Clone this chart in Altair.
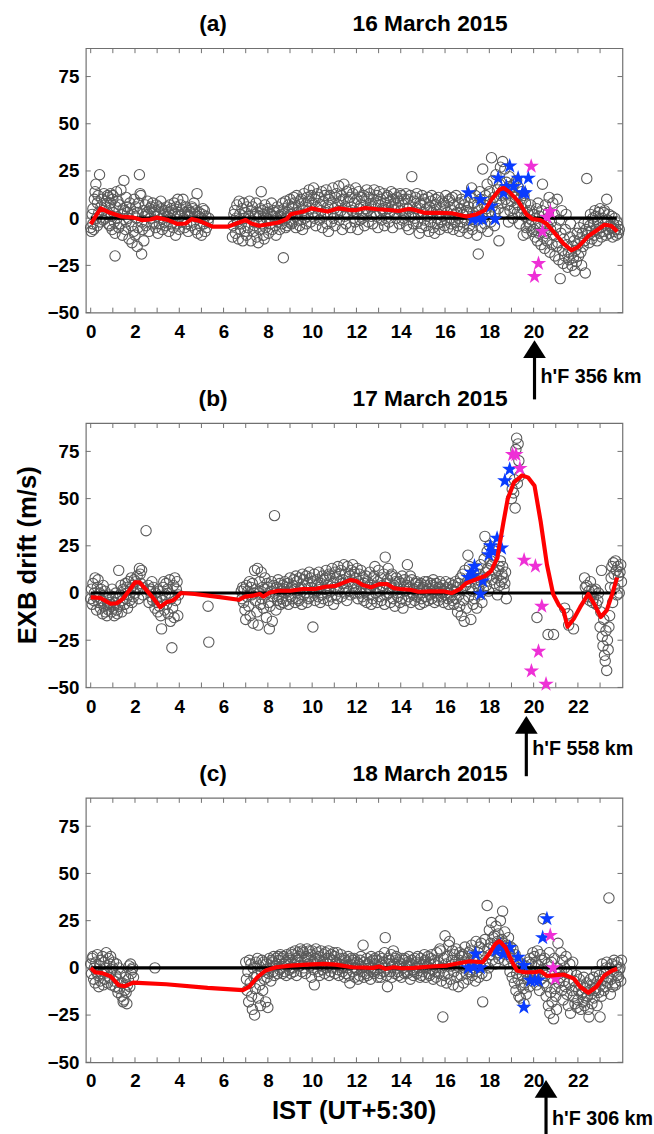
import altair as alt
import pandas as pd

FONT = "Liberation Sans"
W, H = 544, 268
X_DOMAIN = [-0.22, 24.01]
Y_DOMAIN = [-50, 90]
CIRCLE = "#5a5a5a"
FRAME = "#707070"
BLUE = "#0a3cff"
MAGENTA = "#ee30d6"
STAR = "M0,-1L0.225,-0.309L0.951,-0.309L0.363,0.118L0.588,0.809L0,0.382L-0.588,0.809L-0.363,0.118L-0.951,-0.309L-0.225,-0.309Z"
HEAD = "M0,-0.78L1,0.78L-1,0.78Z"
SAMPLE_STEP = 0.033  # sampling cadence (h) of the successive values listed in one 0.1 h bin

x_label_values = [0, 2, 4, 6, 8, 10, 12, 14, 16, 18, 20, 22]
x_tick_values = [0, 1, 2, 3, 4, 5, 6, 7, 8, 9, 10, 11, 12, 13, 14, 15, 16, 17, 18, 19, 20, 21, 22, 23]
y_tick_values = [-50, -25, 0, 25, 50, 75]
zero_span = [0.0, 23.75]

panel_tags = ["(a)", "(b)", "(c)"]
panel_dates = ["16 March 2015", "17 March 2015", "18 March 2015"]
hf_times = [20.04, 19.67, 20.56]
hf_labels = ["h'F 356 km", "h'F 558 km", "h'F 306 km"]

# ---------------- panel (a) 16 March 2015 ----------------
a_obs = [
    (0.0, [-5, -7, 2, -3]), (0.1, [5, -6, 10]), (0.2, [14, 18, 0, -4]), (0.3, [8, 12, 3]), (0.4, [23, -2, 6]),
    (0.5, [10, 4, -1]), (0.6, [13, 7, 0]), (0.7, [9, 2, 12, -3]), (0.8, [11, 5, -4, 13]), (0.9, [8, 1, -6, 12]),
    (1.0, [10, 3, -2, -8]), (1.1, [-20, 6, 14]), (1.2, [0, 9, -5]), (1.3, [7, -3, 15]), (1.4, [2, -9, 5]),
    (1.5, [20, 4, -6, 11]), (1.6, [-2, 6, 3]), (1.7, [0, -11, 8]), (1.8, [5, -4, -13]), (1.9, [2, -7, 10]),
    (2.0, [-9, 6, 0, -15]), (2.1, [3, -5, 8]), (2.2, [23, 13, 12, -2]), (2.3, [-19, -6, 4]), (2.4, [-12, 1, 7]),
    (2.5, [-4, 3, 9]), (2.6, [2, -7, 5]), (2.7, [0, 6, -3]), (2.8, [8, -2, 3]), (2.9, [4, -5, 7]),
    (3.0, [1, -8, 6]), (3.1, [-3, 3, 9]), (3.2, [5, -6, 0]), (3.3, [2, -2, 4]), (3.4, [-4, 6, 1]),
    (3.5, [3, -7, 7]), (3.6, [0, 5, -3]), (3.7, [4, -5, 8]), (3.8, [2, -9, 6]), (3.9, [-3, 10, 3]),
    (4.0, [-6, 1, 7]), (4.1, [4, -2, 10]), (4.2, [0, -5, 3]), (4.3, [6, -3, 2]), (4.4, [-7, 4, 1]),
    (4.5, [3, -4, 6]), (4.6, [5, -2, 8]), (4.7, [2, -6, 4]), (4.8, [13, -8, 1]), (4.9, [3, -4, 0]),
    (5.0, [-9, 2, 5]), (5.1, [-3, 4, -7]), (5.2, [1, -5]), (5.3, [-2, 0]),
    (6.4, [-10, -4, 2]), (6.5, [4, -8, 0]), (6.6, [7, -2, -11]), (6.7, [9, 2, -6]), (6.8, [-3, 5, -12]),
    (6.9, [8, 0, -7]), (7.0, [3, -9, 6]), (7.1, [-5, 1, 9]), (7.2, [0, -12, 4]), (7.3, [6, -7, -2]),
    (7.4, [-4, 2, 8]), (7.5, [-10, 3, -13]), (7.6, [1, -6, 5]), (7.7, [14, -3, 4, -9]), (7.8, [2, -11, 7]),
    (7.9, [-5, 0, 3]), (8.0, [5, -8, -1]), (8.1, [-3, 2, 8]), (8.2, [-6, 1, 4]), (8.3, [3, -4, -9]),
    (8.4, [0, 6, -2]), (8.5, [4, -6, 1]), (8.6, [2, -3, 8]), (8.7, [-21, 5, -1, -5]), (8.8, [9, 0, -4]),
    (8.9, [3, 7, -2]), (9.0, [10, 2, -3, 6]), (9.1, [5, -2, 11]), (9.2, [8, 1, -5]), (9.3, [12, 3, -1]),
    (9.4, [6, -4, 9]), (9.5, [10, 2, -6]), (9.6, [4, 13, 0]), (9.7, [7, -3, 11]), (9.8, [1, 9, 15]),
    (9.9, [5, -2, 12]), (10.0, [8, 3, 16]), (10.1, [0, 10, -4]), (10.2, [6, 13, 2]), (10.3, [11, -1, 7]),
    (10.4, [4, 14, -5]), (10.5, [9, 1, 12]), (10.6, [3, 15, -3]), (10.7, [6, -7, 10]), (10.8, [12, 2, -2]),
    (10.9, [8, 16, 0]), (11.0, [5, -4, 11]), (11.1, [13, 2, 7]), (11.2, [17, -1, 9]), (11.3, [4, 12, -6]),
    (11.4, [10, 18, 1]), (11.5, [6, -3, 14]), (11.6, [2, 9, 15]), (11.7, [11, -5, 6]), (11.8, [4, 13, 0]),
    (11.9, [8, -2, 16]), (12.0, [3, 10, -6]), (12.1, [14, 5, -1]), (12.2, [7, 11, 0]), (12.3, [2, 12, -4]),
    (12.4, [9, 5, 15]), (12.5, [4, -2, 11]), (12.6, [13, 7, 1]), (12.7, [6, -3, 10]), (12.8, [15, 3, 8]),
    (12.9, [1, 12, -5]), (13.0, [7, 14, 3]), (13.1, [10, -1, 5]), (13.2, [4, 13, -4]), (13.3, [8, 0, 11]),
    (13.4, [12, 5, -2]), (13.5, [3, 9, 14]), (13.6, [6, -5, 10]), (13.7, [13, 2, 7]), (13.8, [0, 11, 5]),
    (13.9, [9, -3, 13]), (14.0, [4, 12, -1]), (14.1, [7, 0, 10]), (14.2, [2, 13, -4]), (14.3, [10, 5, -6]),
    (14.4, [6, 12, 1]), (14.5, [22, 3, -3]), (14.6, [9, 0, 11]), (14.7, [5, 13, -2]), (14.8, [2, -8, 8]),
    (14.9, [7, -5, 12]), (15.0, [3, 10, -1]), (15.1, [8, -4, 5]), (15.2, [1, 11, -7]), (15.3, [6, -2, 9]),
    (15.4, [12, 3, -5]), (15.5, [4, -8, 10]), (15.6, [7, 0, -3]), (15.7, [11, 2, -6]), (15.8, [5, -2, 9]),
    (15.9, [1, 8, -4]), (16.0, [6, 12, -1]), (16.1, [3, -5, 9]), (16.2, [10, 0, -3]), (16.3, [4, 11, -6]),
    (16.4, [7, -2, 2]), (16.5, [12, 3, -4]), (16.6, [0, 8, -7]), (16.7, [5, 10, -2]), (16.8, [2, -5, 7]),
    (16.9, [9, -1, 4]), (17.0, [3, -8, 6]), (17.1, [-4, 11, 0]), (17.2, [16, -6, 3]), (17.3, [8, -2, 12]),
    (17.4, [1, -9, 6]), (17.5, [-19, 4, 14]), (17.6, [10, -5, 2]), (17.7, [26, 0, 7]), (17.8, [-3, 12, 5]),
    (17.9, [18, -7, 3]), (18.0, [14, 9, -2]), (18.1, [32, 6, 20]), (18.2, [11, -4, 3]), (18.3, [23, 9, 15]),
    (18.4, [5, -12, 18]), (18.5, [27, 12, 8]), (18.6, [30, 15, 3]), (18.7, [26, 10, 19]), (18.8, [13, 7, -2]),
    (18.9, [22, 4, 16]), (19.0, [9, 14, 0]), (19.1, [18, 5, 11]), (19.2, [12, 20, 3]), (19.3, [7, 16, -3]),
    (19.4, [10, 2, 14]), (19.5, [5, -9, 12]), (19.6, [1, 8, -5]), (19.7, [-8, 3, -2]), (19.8, [4, -4, 7]),
    (19.9, [-1, -7, 2]), (20.0, [-6, 2, -10]), (20.1, [-3, 5, -12]), (20.2, [8, -8, 1]), (20.3, [-5, -14, 4]),
    (20.4, [18, -10, -2]), (20.5, [-16, 7, -8]), (20.6, [-12, -4, 3]), (20.7, [11, -18, -6]), (20.8, [-2, -14, 8]),
    (20.9, [-9, 2, -20]), (21.0, [-5, -15, 10]), (21.1, [-13, -22, -1]), (21.2, [-32, -8, 4]), (21.3, [-17, -24, -11]),
    (21.4, [-20, -6, 2]), (21.5, [-14, -26, -18]), (21.6, [-22, -10, -3]), (21.7, [-19, -25, -15]), (21.8, [-21, -12, -28]),
    (21.9, [-17, -23, -8]), (22.0, [-14, -20, -5]), (22.1, [-11, -18, -25]), (22.2, [-8, -15, -3]), (22.3, [-12, -29, -6]),
    (22.4, [21, -9, -2]), (22.5, [-13, -4, 2]), (22.6, [-7, -11, 0]), (22.7, [-3, -9, 4]), (22.8, [1, -6, -12]),
    (22.9, [-2, 3, -8]), (23.0, [5, -5, -10]), (23.1, [0, -7, 3]), (23.2, [4, -3, -9]), (23.3, [10, -1, -6]),
    (23.4, [2, -8, -4]), (23.5, [-5, 1, -10]), (23.6, [-3, -7, 0]), (23.7, [-6, -9, -2]), (23.8, [-4, -8, -6]),
]
a_red_t = [0.0, 0.45, 0.85, 1.38, 1.94, 2.3, 2.7, 3.0, 3.5, 3.9, 4.3, 4.55, 4.9, 5.5, 6.2, 6.7, 7.0, 7.25,
           7.6, 8.1, 8.47, 8.85, 9.03, 9.6, 9.97, 10.34, 10.7, 11.2, 11.73, 12.0, 12.4, 12.95, 13.5, 13.9,
           14.35, 14.6, 15.1, 15.75, 16.31, 16.7, 16.97, 17.43, 17.8, 18.1, 18.46, 18.65, 18.9, 19.3, 19.67,
           19.95, 20.3, 20.6, 20.98, 21.35, 21.7, 22.0, 22.47, 22.94, 23.2, 23.5, 23.78]
a_red_v = [-3.1, 5.2, 3.0, 0.9, 0.3, -1.0, -0.7, 0.3, -1.0, -3.0, -2.8, -0.5, -1.4, -4.5, -4.5, -2.3, -1.0, -2.8,
           -4.0, -3.1, -2.3, -0.5, 2.1, 3.5, 5.2, 4.3, 3.5, 5.2, 4.3, 4.3, 5.4, 4.7, 4.3, 3.8,
           4.9, 4.5, 2.8, 2.8, 2.6, 1.6, 0.9, 2.1, 4.2, 9.9, 15.1, 16.0, 13.9, 9.0, 2.1,
           -0.5, -1.0, -3.1, -8.3, -13.5, -17.0, -15.3, -9.5, -5.7, -3.5, -4.0, -7.1]
a_blue = [(17.05, 13.4), (17.6, 9.9), (17.24, -0.5), (17.5, -0.5), (17.7, -0.5), (18.08, 6.4), (18.26, -0.5),
          (18.4, 21.2), (18.64, 13.4), (18.77, 16.8), (18.92, 27.6), (19.1, 16.8), (19.3, 21.2), (19.5, 13.4),
          (19.62, 13.4), (19.76, 21.2)]
a_mag = [(19.89, 27.5), (20.04, -30.9), (20.22, -24.0), (20.4, -7.0), (20.6, 0.5), (20.75, 3.5)]

# ---------------- panel (b) 17 March 2015 ----------------
b_obs = [
    (0.0, [-3, 2, -6]), (0.1, [5, -4, 0]), (0.2, [8, -2, -9]), (0.3, [3, 7, -5]), (0.4, [0, -8, 2]),
    (0.5, [-4, -11, 4]), (0.6, [-7, 1, -10]), (0.7, [-3, -12, -6]), (0.8, [-9, -1, -5]), (0.9, [-6, -10, 2]),
    (1.0, [-2, -8, -12]), (1.1, [-5, 0, -9]), (1.2, [-11, -3, 12]), (1.3, [-7, -1, 4]), (1.4, [-10, -4, 2]),
    (1.5, [1, -6, 5]), (1.6, [-3, 3, -8]), (1.7, [6, -1, -4]), (1.8, [2, 8, -5]), (1.9, [4, -2, 7]),
    (2.0, [0, 6, 3]), (2.1, [9, 2, -3]), (2.2, [13, 10, 5]), (2.3, [12, 3, -1]), (2.5, [33]),
    (2.6, [4, -5, 1]), (2.7, [2, -2, 6]), (2.8, [-4, 3]), (2.9, [-8, 0, -3]), (3.0, [-5, -10, 1]),
    (3.1, [-7, -2, -12]), (3.2, [-19, -4, 3]), (3.3, [6, -9, -1]), (3.4, [5, -6, 2]), (3.5, [-11, 0, 7]),
    (3.6, [-15, -3, -29]), (3.7, [-8, 4, -13]), (3.8, [8, -4, 2]), (3.9, [6, -12, -1]),
    (5.3, [-7, -26]),
    (6.8, [1, -3, 3]), (6.9, [-5, 2, -9]), (7.0, [-14, 4, -2]), (7.1, [1, -7, 6]), (7.2, [-12, 3, -1]),
    (7.3, [5, -16, 0]), (7.4, [12, -4, 2]), (7.5, [-10, 13, -17]), (7.6, [0, 6, -6]), (7.7, [11, -3, 3]),
    (7.8, [-8, 2, 8]), (7.9, [-1, -13, 5]), (8.0, [3, -5, -19]), (8.1, [-7, 1, 6]), (8.2, [-15, -2, 4]),
    (8.3, [41, 0, -9]), (8.4, [3, -4, 7]), (8.5, [-2, 5, -6]), (8.6, [1, -3, 4]), (8.7, [-5, 2, 6]),
    (8.8, [0, -4, 3]), (8.9, [5, -6, 1]), (9.0, [8, -2, 3]), (9.1, [-3, 4, 7]), (9.2, [2, -5, 9]),
    (9.3, [6, 0, -3]), (9.4, [-4, 8, 2]), (9.5, [3, -6, 10]), (9.6, [7, -1, 4]), (9.7, [0, 9, -5]),
    (9.8, [5, -3, 11]), (9.9, [-2, 8, 3]), (10.0, [6, -18, 0]), (10.1, [10, -4, 4]), (10.2, [1, 7, -2]),
    (10.3, [11, 3, -5]), (10.4, [5, -1, 9]), (10.5, [-3, 7, 2]), (10.6, [8, 12, 0]), (10.7, [4, -4, 10]),
    (10.8, [9, 1, -2]), (10.9, [13, 5, -6]), (11.0, [3, 11, -1]), (11.1, [8, -3, 14]), (11.2, [1, 10, 6]),
    (11.3, [12, -2, 5]), (11.4, [7, 15, 0]), (11.5, [10, 3, -4]), (11.6, [14, 6, 1]), (11.7, [9, -1, 12]),
    (11.8, [5, 15, 3]), (11.9, [11, 0, 8]), (12.0, [2, 13, -3]), (12.1, [6, 10, 0]), (12.2, [12, 3, -2]),
    (12.3, [8, -4, 5]), (12.4, [1, 9, -5]), (12.5, [6, -1, 3]), (12.6, [11, 2, -6]), (12.7, [4, -3, 8]),
    (12.8, [9, 14, 0]), (12.9, [3, -5, 6]), (13.0, [12, 1, -2]), (13.1, [8, -4, 4]), (13.2, [2, 10, -6]),
    (13.3, [19, 5, -1]), (13.4, [7, 13, 0]), (13.5, [3, -5, 9]), (13.6, [10, 1, -3]), (13.7, [4, -7, 6]),
    (13.8, [8, 0, -2]), (13.9, [2, 6, -5]), (14.0, [5, -3, 9]), (14.1, [-8, 3, 7]), (14.2, [1, -4, 4]),
    (14.3, [15, 6, -2]), (14.4, [3, 9, -5]), (14.5, [7, 0, -1]), (14.6, [2, -4, 5]), (14.7, [6, -2, 3]),
    (14.8, [0, 4, -6]), (14.9, [5, -3, 2]), (15.0, [3, -5, 6]), (15.1, [-2, 4, 1]), (15.2, [6, -4, 0]),
    (15.3, [2, -1, 5]), (15.4, [-3, 4, 7]), (15.5, [1, -5, 3]), (15.6, [5, 0, -2]), (15.7, [-4, 3, 6]),
    (15.8, [2, -2, 0]), (15.9, [4, -5, 1]), (16.0, [-1, 6, 2]), (16.1, [3, -3, -6]), (16.2, [0, 5, -2]),
    (16.3, [2, -4, 4]), (16.4, [-6, 1, 6]), (16.5, [-3, 3, -10]), (16.6, [5, -1, -7]), (16.7, [8, -12, 2]),
    (16.8, [10, -4, -15]), (16.9, [12, 4, -8]), (17.0, [6, 20, -2]), (17.1, [14, 3, -14]), (17.2, [9, 1, -6]),
    (17.3, [11, -3, 5]), (17.4, [7, -8, 13]), (17.5, [3, 10, -1]), (17.6, [15, 6, -5]), (17.7, [8, 2, 18]),
    (17.8, [30, 11, 4]), (17.9, [22, 13, 1]), (18.0, [25, 9, 17]), (18.1, [15, 7, 20]), (18.2, [19, 5, 11]),
    (18.3, [23, 8, -1]), (18.4, [12, 14, 4]), (18.5, [17, 6, 10]), (18.6, [14, 8, 2]), (18.7, [5, 11, -3]),
    (19.0, [50, 55]), (19.1, [53, 60, 45]), (19.2, [76, 82, 58]), (19.3, [79, 70, 62]),
    (20.15, [-13]), (20.65, [-22]), (20.9, [-22]), (21.4, [-8]), (21.55, [-11, -17]), (21.8, [-19]),
    (22.3, [8, 3]), (22.4, [4, -2]), (22.5, [1, -4, 6]), (22.6, [-1, 2, -5]), (22.7, [-3, 1]),
    (22.8, [2, -6]), (22.9, [-4, 0]), (23.0, [-18, -10, 12]), (23.1, [-23, -28, -14]), (23.2, [-33, -36, -20]),
    (23.3, [-41, -25, -30]), (23.4, [-18, -12, 3]), (23.5, [8, 14, -5]), (23.6, [16, 10, 3]), (23.7, [17, 12, -1]),
    (23.8, [14, 9, 0]), (23.9, [11, 15, 6]),
]
b_red_t = [0.0, 0.43, 0.9, 1.18, 1.45, 1.73, 2.0, 2.2, 2.48, 2.85, 3.14, 3.42, 3.7, 3.88, 4.07, 4.7, 5.66,
           6.69, 6.97, 7.34, 7.63, 7.8, 8.09, 8.46, 9.02, 9.58, 10.14, 10.6, 11.07, 11.45, 11.73, 12.0,
           12.28, 12.66, 13.03, 13.4, 13.68, 13.96, 14.43, 14.8, 15.36, 15.92, 16.3, 16.67, 16.95, 17.42,
           17.8, 18.08, 18.36, 18.64, 18.83, 19.11, 19.48, 19.76, 20.04, 20.32, 20.6, 20.88, 21.15, 21.35,
           21.53, 21.82, 22.1, 22.47, 22.75, 23.03, 23.3, 23.55, 23.77]
b_red_v = [-2.3, -2.6, -5.7, -5.4, -3.1, 1.2, 5.6, 5.7, 2.1, -3.1, -7.5, -4.9, -4.0, -2.3, 0.0, -0.5, -1.9,
           -3.6, -1.9, -1.4, -0.5, -1.9, 0.3, 1.2, 1.2, 2.1, 2.1, 3.3, 3.8, 5.6, 6.9, 6.4,
           4.3, 3.0, 4.7, 4.7, 2.6, 2.1, 1.7, 0.7, 0.9, 0.9, 0.0, 2.1, 5.2, 7.3,
           9.0, 11.6, 18.6, 37.7, 49.8, 58.5, 62.3, 61.1, 56.8, 37.7, 15.1, -0.5, -6.6, -9.2,
           -17.9, -13.5, -7.5, -0.5, -6.1, -12.7, -9.2, -0.5, 8.2]
b_blue = [(17.05, 8.2), (17.2, 11.0), (17.33, 14.2), (17.25, 9.0), (17.6, -0.5), (17.7, 6.4), (17.98, 20.3),
          (18.05, 25.0), (18.15, 22.0), (18.35, 29.0), (18.55, 23.8), (18.7, 59.4), (18.92, 65.5)]
b_mag = [(19.05, 73.3), (19.2, 73.3), (19.38, 66.0), (19.57, 17.4), (20.08, 14.2), (20.37, -7.0),
         (20.22, -30.9), (19.9, -41.3), (20.56, -48.3)]

# ---------------- panel (c) 18 March 2015 ----------------
c_obs = [
    (0.0, [2, -3, 5]), (0.1, [6, -6, 0]), (0.2, [-8, 3, -2]), (0.3, [7, -4, -10]), (0.4, [1, -7, 4]),
    (0.5, [-3, 6, -9]), (0.6, [3, -6, 0]), (0.7, [8, -2, -8]), (0.8, [5, -5, 2]), (0.9, [6, -9, -1]),
    (1.0, [0, 3, -7]), (1.1, [-10, -4, 2]), (1.2, [-6, -13, 0]), (1.3, [-11, -3, -8]), (1.4, [-15, -8, -18]),
    (1.5, [-17, -12, -5]), (1.6, [-13, -19, -9]), (1.7, [-6, 1, -10]), (1.8, [2, -3, -1]), (1.9, [0, -5]),
    (2.9, [0]),
    (7.0, [3, -6, -12]), (7.1, [-2, -18, 4]), (7.2, [-8, 2, -15]), (7.3, [-22, 0, -5]), (7.4, [-25, -11, 3]),
    (7.5, [-4, 5, -16]), (7.6, [1, -9, -20]), (7.7, [-2, 4, -12]), (7.8, [3, -6, -1]), (7.9, [-18, 2, -5]),
    (8.0, [-21, -3, 5]), (8.1, [0, -7, 4]), (8.2, [3, -2, 6]), (8.3, [-4, 1, 5]), (8.4, [2, -3, 6]),
    (8.5, [4, -1, 7]), (8.6, [0, 5, -3]), (8.7, [6, 2, -2]), (8.8, [3, -4, 7]), (8.9, [1, 5, -1]),
    (9.0, [4, -3, 8]), (9.1, [7, 0, -2]), (9.2, [2, 9, 5]), (9.3, [-4, 4, 8]), (9.4, [6, 1, 10]),
    (9.5, [3, -2, 9]), (9.6, [8, 0, 4]), (9.7, [-3, 6, 10]), (9.8, [5, 2, 9]), (9.9, [1, 7, -5]),
    (10.0, [9, 3, -1]), (10.1, [-9, 5, 10]), (10.2, [2, 8, -2]), (10.3, [6, -4, 4]), (10.4, [9, 1, -1]),
    (10.5, [3, 7, -3]), (10.6, [8, 0, 5]), (10.7, [2, 9, -4]), (10.8, [5, -2, 7]), (10.9, [0, 4, 8]),
    (11.0, [6, -3, 2]), (11.1, [3, 8, -1]), (11.2, [-4, 2, 5]), (11.3, [7, 0, -2]), (11.4, [1, 5, -5]),
    (11.5, [4, -3, 3]), (11.6, [0, 6, -4]), (11.7, [-8, 2, 5]), (11.8, [3, -2, 4]), (11.9, [5, -5, 0]),
    (12.0, [-1, 3, -6]), (12.1, [2, -4, 4]), (12.2, [6, -2, 0]), (12.3, [12, -5, 3]), (12.4, [1, -3, 5]),
    (12.5, [-4, 2, 0]), (12.6, [3, -6, 6]), (12.7, [0, 4, -2]), (12.8, [-3, 5, 2]), (12.9, [4, -1, -5]),
    (13.0, [1, 6, -3]), (13.1, [-5, 2, 5]), (13.2, [3, -2, 8]), (13.3, [16, 0, -4]), (13.4, [-10, 5, 2]),
    (13.5, [4, -2, 7]), (13.6, [-5, 1, 9]), (13.7, [2, -3, 5]), (13.8, [6, 0, -2]), (13.9, [-4, 3, 1]),
    (14.0, [2, -5, 5]), (14.1, [0, 4, -3]), (14.2, [5, -2, 1]), (14.3, [-3, 3, 6]), (14.4, [1, -6, 2]),
    (14.5, [4, -1, -4]), (14.6, [-2, 5, 0]), (14.7, [3, -3, 6]), (14.8, [0, 2, -5]), (14.9, [5, -4, 1]),
    (15.0, [-2, 3, 7]), (15.1, [4, -5, 0]), (15.2, [1, 6, -3]), (15.3, [-4, 2, 5]), (15.4, [7, -1, -6]),
    (15.5, [2, 4, -2]), (15.6, [-5, 8, 1]), (15.7, [3, -3, 10]), (15.8, [9, -7, 0]), (15.9, [-26, 5, -4]),
    (16.0, [17, 2, -8]), (16.1, [6, -3, 12]), (16.2, [14, -6, 1]), (16.3, [4, 9, -9]), (16.4, [-2, 7, 3]),
    (16.5, [10, -5, 1]), (16.6, [-10, 4, 8]), (16.7, [2, -4, 6]), (16.8, [7, -8, 0]), (16.9, [11, 3, -3]),
    (17.0, [5, -6, 8]), (17.1, [-2, 9, 2]), (17.2, [12, -4, 4]), (17.3, [6, 0, -7]), (17.4, [14, -2, 3]),
    (17.5, [8, -5, 11]), (17.6, [1, 13, -3]), (17.7, [-18, 6, 9]), (17.8, [15, 3, -4]), (17.9, [33, 10, 0]),
    (18.0, [20, 7, 13]), (18.1, [24, 4, 16]), (18.2, [11, 17, 2]), (18.3, [22, 8, 14]), (18.4, [18, 5, 12]),
    (18.5, [25, 9, 15]), (18.6, [30, 13, 4]), (18.7, [19, 7, 10]), (18.8, [12, 3, 16]), (18.9, [8, -2, 11]),
    (19.0, [5, -5, 10]), (19.1, [2, -8, 7]), (19.2, [-12, -3, 4]), (19.3, [-6, -15, 0]), (19.4, [-16, -9, 2]),
    (19.5, [-4, -11, -19]), (19.6, [-8, 1, -14]), (19.7, [-2, -6, 3]), (19.8, [-10, 5, -4]), (19.9, [2, -7, 8]),
    (20.0, [-5, 6, -2]), (20.1, [3, -9, 9]), (20.2, [-3, 1, -12]), (20.3, [7, -6, 4]), (20.4, [-1, 26, -8]),
    (20.5, [5, -4, -15]), (20.6, [-10, 2, -20]), (20.7, [8, -24, -13]), (20.8, [3, -18, -6]), (20.9, [-27, 5, -11]),
    (21.0, [-15, -22, 0]), (21.1, [13, -8, -3]), (21.2, [-5, 8, -12]), (21.3, [4, -17, -7]), (21.4, [0, -10, 6]),
    (21.5, [-14, -3, -20]), (21.6, [-8, 2, -24]), (21.7, [-2, -12, 3]), (21.8, [-15, -7, -19]), (21.9, [-10, -4, -21]),
    (22.0, [-17, -12, -6]), (22.1, [-9, -22, -14]), (22.2, [-13, -18, -5]), (22.3, [-20, -11, -16]), (22.4, [-8, -15, -22]),
    (22.5, [-26, -12, -6]), (22.6, [-14, -19, -9]), (22.7, [-5, -16, -11]), (22.8, [-12, -2, -20]), (22.9, [-7, -13, -4]),
    (23.0, [-26, -9, -15]), (23.1, [2, -6, -12]), (23.2, [-3, -10, 0]), (23.3, [3, -8, -5]), (23.4, [37, 0, -14]),
    (23.5, [-6, 2, -10]), (23.6, [-2, 4, -8]), (23.7, [-9, 1, -4]), (23.8, [3, -5, -1]), (23.9, [0, -7, 4]),
]
c_red_t = [0.0, 0.2, 0.52, 0.9, 1.27, 1.55, 1.92, 3.41, 5.28, 6.87, 7.15, 7.53, 7.9, 8.37, 9.02, 9.77, 10.52,
           11.07, 11.82, 12.75, 13.03, 13.31, 13.68, 14.05, 14.6, 15.36, 16.1, 16.67, 17.13, 17.7, 17.98,
           18.26, 18.46, 18.73, 19.0, 19.25, 19.56, 20.04, 20.32, 20.6, 21.35, 21.82, 22.1, 22.47, 22.84,
           23.2, 23.55, 23.77]
c_red_v = [0.0, -2.3, -2.8, -4.5, -9.2, -9.7, -7.8, -8.7, -10.6, -11.8, -10.1, -4.9, -1.4, 0.3, 1.2, 1.7, 2.1,
           1.7, 0.3, 0.0, 0.7, -0.5, 0.3, -0.2, 0.0, 0.7, 1.2, 2.6, 3.5, 3.0, 7.3,
           12.5, 14.2, 10.8, 3.8, -1.4, -2.3, -2.3, -1.7, -4.3, -3.5, -5.7, -10.0, -13.2, -10.0,
           -4.0, -1.4, -0.5]
c_blue = [(17.05, 0.0), (17.38, 7.3), (17.3, 0.5), (17.6, 0.0), (18.3, 9.0), (18.5, 12.0), (18.64, 7.3),
          (18.92, 10.8), (19.3, 5.6), (19.56, 1.2), (19.56, -20.8), (19.85, -6.6), (20.05, -6.6), (20.22, -6.6),
          (20.41, 16.0), (20.6, 26.0)]
c_mag = [(20.75, 17.2), (20.88, 0.0), (20.98, -5.7)]

# arrow geometry below each panel: (head top offset, shaft end offset, label offset) in px below the plot
arrow_geo = [(28, 88, 65), (29, 90, 63), (18, 75, 58)]

X_AXIS = alt.Axis(values=x_label_values, ticks=False, domain=False, grid=False, title=None,
                  labelPadding=10, labelFlush=False)
Y_AXIS = alt.Axis(values=y_tick_values, ticks=False, domain=False, grid=False, title=None,
                  labelPadding=7, labelFlush=False)


def make_panel(k, obs, red_t, red_v, blue, mag, ytitle=False, xtitle=False):
    xs = alt.Scale(domain=X_DOMAIN, nice=False, zero=False)
    ys = alt.Scale(domain=Y_DOMAIN, nice=False, zero=False)
    xe = alt.X("t:Q", scale=xs, axis=X_AXIS)
    ye = alt.Y("v:Q", scale=ys, axis=Y_AXIS)

    sc = pd.DataFrame([{"t": t + i * SAMPLE_STEP, "v": v} for t, vals in obs for i, v in enumerate(vals)])
    circles = alt.Chart(sc).mark_point(
        shape="circle", filled=False, size=110, strokeWidth=1.1, color=CIRCLE, opacity=1
    ).encode(x=xe, y=ye)
    zero = alt.Chart(pd.DataFrame({"t": [zero_span[0]], "t2": [zero_span[1]], "v": [0]})).mark_rule(
        color="black", strokeWidth=3.2).encode(x=xe, x2="t2:Q", y=ye)

    bdf = pd.DataFrame({"t": [p[0] for p in blue], "v": [p[1] for p in blue]})
    mdf = pd.DataFrame({"t": [p[0] for p in mag], "v": [p[1] for p in mag]})
    bstars = alt.Chart(bdf).mark_point(shape=STAR, filled=True, size=270, color=BLUE, opacity=1,
                                       strokeWidth=0).encode(x=xe, y=ye)
    mstars = alt.Chart(mdf).mark_point(shape=STAR, filled=True, size=270, color=MAGENTA, opacity=1,
                                       strokeWidth=0).encode(x=xe, y=ye)
    red = alt.Chart(pd.DataFrame({"t": red_t, "v": red_v})).mark_line(
        color="#ff0000", strokeWidth=4.2, strokeJoin="round").encode(x=xe, y=ye)

    xt = pd.DataFrame({"t": x_tick_values})
    yt = pd.DataFrame({"v": y_tick_values})
    tb = alt.Chart(xt).mark_rule(color=FRAME, strokeWidth=1).encode(x=xe, y=alt.value(H), y2=alt.value(H - 5))
    tt = alt.Chart(xt).mark_rule(color=FRAME, strokeWidth=1).encode(x=xe, y=alt.value(0), y2=alt.value(5))
    tl = alt.Chart(yt).mark_rule(color=FRAME, strokeWidth=1).encode(y=ye, x=alt.value(0), x2=alt.value(5))
    tr = alt.Chart(yt).mark_rule(color=FRAME, strokeWidth=1).encode(y=ye, x=alt.value(W), x2=alt.value(W - 5))

    tdf = pd.DataFrame({"tag": [panel_tags[k]], "date": [panel_dates[k]]})
    tag = alt.Chart(tdf).mark_text(font=FONT, fontSize=23, fontWeight="bold", align="center",
                                   baseline="middle").encode(x=alt.value(129), y=alt.value(-24.5), text="tag:N")
    date = alt.Chart(tdf).mark_text(font=FONT, fontSize=23, fontWeight="bold", align="center",
                                    baseline="middle").encode(x=alt.value(349), y=alt.value(-24.5), text="date:N")

    head_top, shaft_end, text_off = arrow_geo[k]
    adf = pd.DataFrame({"t": [hf_times[k]], "label": [hf_labels[k]]})
    shaft = alt.Chart(adf).mark_rule(color="black", strokeWidth=3.2).encode(
        x=xe, y=alt.value(H + head_top + 9), y2=alt.value(H + shaft_end))
    head = alt.Chart(adf).mark_point(shape=HEAD, filled=True, size=529, color="black", opacity=1,
                                     strokeWidth=0).encode(x=xe, y=alt.value(H + head_top + 9))
    lab = alt.Chart(adf).mark_text(align="left", baseline="middle", dx=6, font=FONT, fontSize=20,
                                   fontWeight="bold").encode(x=xe, y=alt.value(H + text_off), text="label:N")

    layers = [circles, zero, bstars, mstars, red, tb, tt, tl, tr, tag, date, shaft, head, lab]
    if ytitle:
        layers.append(alt.Chart(pd.DataFrame({"s": ["EXB drift (m/s)"]})).mark_text(
            font=FONT, fontSize=26, fontWeight="bold", angle=270, align="center", baseline="middle"
        ).encode(x=alt.value(-58), y=alt.value(H / 2), text="s:N"))
    if xtitle:
        layers.append(alt.Chart(pd.DataFrame({"s": ["IST (UT+5:30)"]})).mark_text(
            font=FONT, fontSize=26, fontWeight="bold", align="center", baseline="middle"
        ).encode(x=alt.value(W / 2), y=alt.value(H + 50), text="s:N"))
    return alt.layer(*layers).properties(width=W, height=H)


pa = make_panel(0, a_obs, a_red_t, a_red_v, a_blue, a_mag)
pb = make_panel(1, b_obs, b_red_t, b_red_v, b_blue, b_mag, ytitle=True)
pc = make_panel(2, c_obs, c_red_t, c_red_v, c_blue, c_mag, xtitle=True)

chart = alt.vconcat(pa, pb, pc, spacing=112, bounds="flush").configure_view(
    stroke=FRAME, strokeWidth=1.2
).configure_axis(
    labelFont=FONT, labelFontSize=19, labelFontWeight="bold", labelColor="black"
).properties(
    padding={"left": 15, "top": 4, "right": 0, "bottom": 0}, background="white"
)

chart.save("out.html", embed_options={"renderer": "svg", "actions": False})
